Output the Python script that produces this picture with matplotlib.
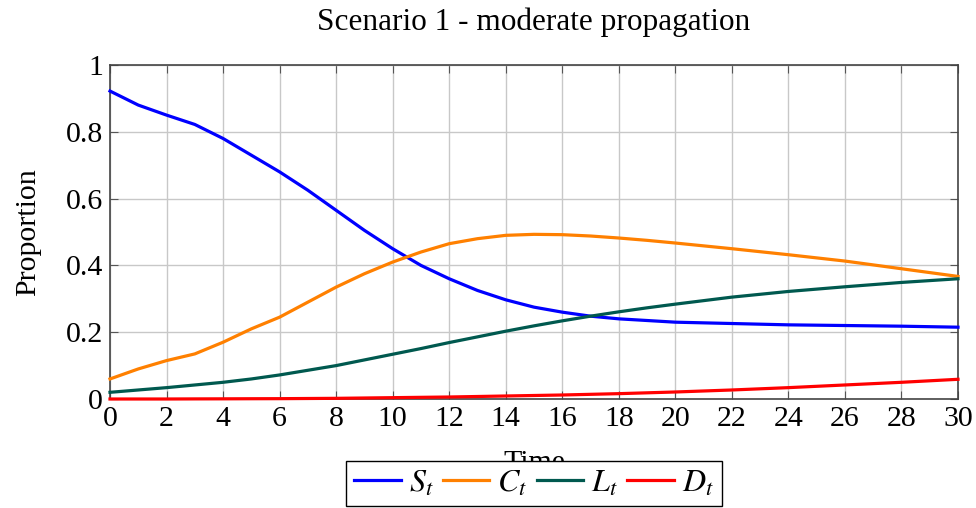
import matplotlib
matplotlib.use("Agg")
import matplotlib.pyplot as plt

plt.rcParams['font.family'] = ['Liberation Serif', 'DejaVu Serif']
plt.rcParams['mathtext.fontset'] = 'stix'

# valores
t = [0, 1, 2, 3, 4, 5, 6, 7, 8, 9, 10, 11, 12, 13, 14, 15, 16, 17, 18, 19, 20,
     22, 24, 26, 28, 30]
S = [0.922, 0.88, 0.85, 0.822, 0.78, 0.73, 0.68, 0.625, 0.565, 0.505, 0.45,
     0.40, 0.36, 0.325, 0.297, 0.275, 0.26, 0.248, 0.24, 0.235, 0.23,
     0.226, 0.222, 0.22, 0.218, 0.215]
C = [0.06, 0.09, 0.115, 0.135, 0.17, 0.21, 0.245, 0.29, 0.335, 0.375, 0.41,
     0.44, 0.465, 0.48, 0.49, 0.493, 0.492, 0.488, 0.482, 0.475, 0.467,
     0.45, 0.432, 0.413, 0.39, 0.367]
L = [0.02, 0.027, 0.034, 0.042, 0.05, 0.06, 0.072, 0.086, 0.10, 0.117, 0.134,
     0.151, 0.169, 0.186, 0.203, 0.219, 0.234, 0.248, 0.261, 0.273, 0.284,
     0.305, 0.322, 0.336, 0.349, 0.36]
D = [0.0, 0.0, 0.0, 0.0003, 0.0005, 0.0008, 0.001, 0.0015, 0.002, 0.003, 0.004,
     0.005, 0.006, 0.0075, 0.009, 0.0105, 0.012, 0.014, 0.016, 0.0185, 0.021,
     0.027, 0.034, 0.042, 0.05, 0.059]

series = [(S, '$S_t$', '#0000ff'), (C, '$C_t$', '#ff8000'),
          (L, '$L_t$', '#00594f'), (D, '$D_t$', '#ff0000')]

fig = plt.figure(figsize=(9.76, 5.08), dpi=100)
ax = fig.add_axes([110/976, 1-399/508, 848/976, 334/508])

for y, lab, col in series:
    ax.plot(t, y, color=col, lw=2.3, label=lab, clip_on=False, zorder=3)

ax.set_xlim(0, 30)
ax.set_ylim(0, 1)
ax.set_xticks(range(0, 31, 2))
ax.set_yticks([0, 0.2, 0.4, 0.6, 0.8, 1])
ax.set_yticklabels(['0', '0.2', '0.4', '0.6', '0.8', '1'])
ax.tick_params(direction='in', length=6, top=True, right=True, labelsize=21.5,
               color='#555555', pad=5)
ax.grid(True, color='#c8c8c8', lw=1)
for s in ax.spines.values():
    s.set_color('#444444')
    s.set_linewidth(1.2)

ax.set_title("Scenario 1 - moderate propagation", fontsize=22.5, pad=25)
# en el original la leyenda tapa casi todo el "Time"
ax.set_xlabel("Time", fontsize=21.5, labelpad=13)
ax.set_ylabel("Proportion", fontsize=21.5, labelpad=18)

leg = fig.legend(loc='lower center', bbox_to_anchor=(534/976, 0.0), ncol=4,
                 fontsize=23, frameon=True, fancybox=False, framealpha=1,
                 edgecolor='black', handlelength=1.45, handletextpad=0.25,
                 columnspacing=0.3, borderpad=0.25, borderaxespad=0.05)
leg.get_frame().set_linewidth(1.0)

plt.savefig("out.png", dpi=100)
